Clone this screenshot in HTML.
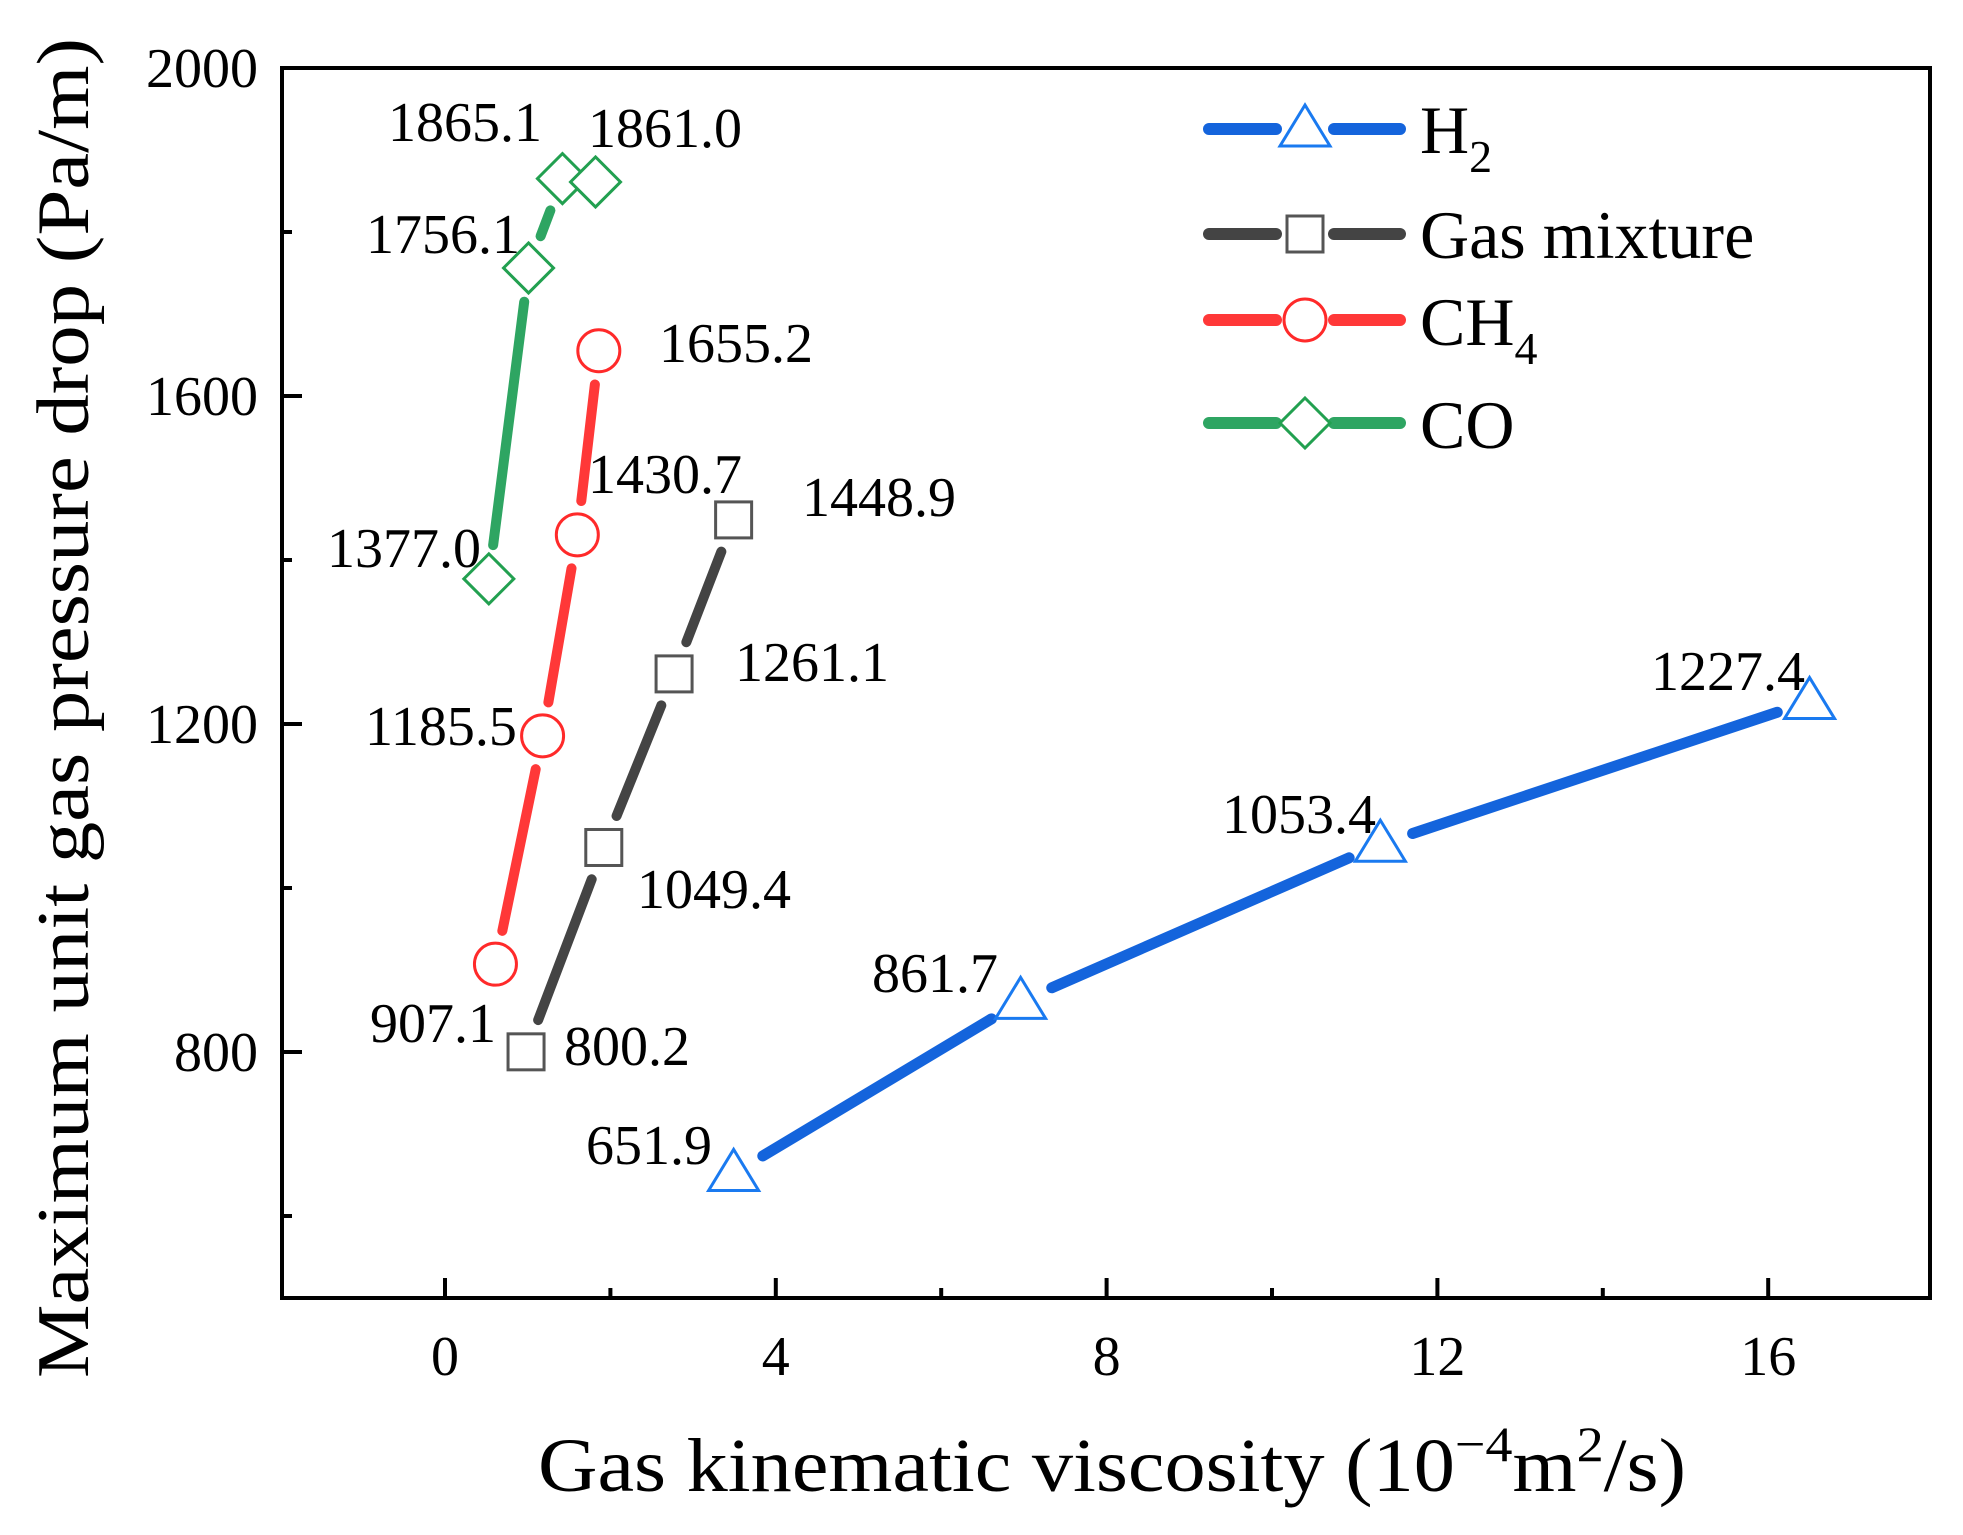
<!DOCTYPE html>
<html><head><meta charset="utf-8"><style>html,body{margin:0;padding:0;background:#fff}svg{display:block}</style></head>
<body>
<svg id="s" width="1963" height="1535" viewBox="0 0 1963 1535" xmlns="http://www.w3.org/2000/svg" font-family="Liberation Serif, serif">
<rect width="1963" height="1535" fill="#fff"/>
<g id="plot"></g>
<rect x="282" y="68" width="1648" height="1230" fill="none" stroke="#000" stroke-width="4"/>
<g stroke="#000" stroke-width="4" id="ticks"></g>
<g font-size="56" fill="#000" text-anchor="end">
<text x="258" y="87">2000</text>
<text x="258" y="415">1600</text>
<text x="258" y="743">1200</text>
<text x="258" y="1071">800</text>
</g>
<g font-size="56" fill="#000" text-anchor="middle" id="xl"></g>
<text x="538" y="1491" font-size="76" textLength="1148" lengthAdjust="spacingAndGlyphs">Gas kinematic viscosity (10<tspan dy="-30" font-size="50">−4</tspan><tspan dy="30">m</tspan><tspan dy="-30" font-size="50">2</tspan><tspan dy="30">/s)</tspan></text>
<text transform="translate(88,1378) rotate(-90)" font-size="74" textLength="1340" lengthAdjust="spacingAndGlyphs">Maximum unit gas pressure drop  (Pa/m)</text>
<g font-size="56" fill="#000">
<text x="388" y="141">1865.1</text>
<text x="588" y="147">1861.0</text>
<text x="366" y="253">1756.1</text>
<text x="659" y="362">1655.2</text>
<text x="588" y="493">1430.7</text>
<text x="802" y="516">1448.9</text>
<text x="327" y="567">1377.0</text>
<text x="735" y="681">1261.1</text>
<text x="365" y="745">1185.5</text>
<text x="637" y="908">1049.4</text>
<text x="370" y="1042">907.1</text>
<text x="564" y="1065">800.2</text>
<text x="586" y="1164">651.9</text>
<text x="872" y="992">861.7</text>
<text x="1222" y="833">1053.4</text>
<text x="1651" y="690">1227.4</text>
</g>
<g id="leg"></g>
<g font-size="68" fill="#000">
<text x="1420" y="153">H<tspan font-size="46" dy="19">2</tspan></text>
<text x="1420" y="258">Gas mixture</text>
<text x="1420" y="345">CH<tspan font-size="46" dy="19">4</tspan></text>
<text x="1420" y="448">CO</text>
</g>
</svg>
<script>
const NS="http://www.w3.org/2000/svg";
const X0=445,U=82.7;
function px(x){return X0+U*x} function py(v){return 68+(2000-v)*0.82}
function el(p,t,a){const e=document.createElementNS(NS,t);for(const k in a)e.setAttribute(k,a[k]);p.appendChild(e);return e}
const ticks=document.getElementById('ticks');
[2000,1800,1600,1400,1200,1000,800,600].forEach(v=>{const y=py(v);el(ticks,'line',{x1:282,x2:282+(v%400==0?20:10),y1:y,y2:y})});
for(let x=0;x<=16;x+=2){const X=px(x);el(ticks,'line',{x1:X,x2:X,y1:1298,y2:1298-(x%4==0?20:10)})}
const xl=document.getElementById('xl');
[0,4,8,12,16].forEach(x=>{const t=el(xl,'text',{x:px(x),y:1375});t.textContent=x});
const S=[
 {c:'#1464dc',m:'#1a7af0',k:'tri',w:11,d:[[3.49,651.9],[6.96,861.7],[11.31,1053.4],[16.5,1227.4]]},
 {c:'#444',m:'#555',k:'sq',w:10,d:[[0.98,800.2],[1.92,1049.4],[2.77,1261.1],[3.49,1448.9]]},
 {c:'#ff3838',m:'#ff2a2a',k:'ci',w:10,d:[[0.61,907.1],[1.18,1185.5],[1.60,1430.7],[1.86,1655.2]]},
 {c:'#2ea562',m:'#22a050',k:'di',w:10,d:[[0.53,1377.0],[1.01,1756.1],[1.42,1865.1],[1.82,1861.0]]}];
function marker(g,k,x,y,col){
 const a={fill:'#fff',stroke:col,'stroke-width':3};
 if(k=='tri')el(g,'polygon',Object.assign({points:`${x},${y-24} ${x-25},${y+17} ${x+25},${y+17}`},a));
 if(k=='sq')el(g,'rect',Object.assign({x:x-18,y:y-18,width:36,height:36},a));
 if(k=='ci')el(g,'circle',Object.assign({cx:x,cy:y,r:21},a));
 if(k=='di')el(g,'polygon',Object.assign({points:`${x},${y-25} ${x+25},${y} ${x},${y+25} ${x-25},${y}`},a));
}
const g=document.getElementById('plot');
S.forEach(s=>{const p=s.d.map(q=>[px(q[0]),py(q[1])]);
 for(let i=0;i<p.length-1;i++){const [x1,y1]=p[i],[x2,y2]=p[i+1];const L=Math.hypot(x2-x1,y2-y1);const gap=34;
  if(L>2*gap){const ux=(x2-x1)/L,uy=(y2-y1)/L;el(g,'line',{x1:x1+ux*gap,y1:y1+uy*gap,x2:x2-ux*gap,y2:y2-uy*gap,stroke:s.c,'stroke-width':s.w,'stroke-linecap':'round'})}}
 p.forEach(q=>marker(g,s.k,q[0],q[1],s.m));});
const lg=document.getElementById('leg');
[129,234,320,423].forEach((y,i)=>{const s=S[i];
 el(lg,'line',{x1:1209,x2:1276,y1:y,y2:y,stroke:s.c,'stroke-width':12,'stroke-linecap':'round'});
 el(lg,'line',{x1:1334,x2:1400,y1:y,y2:y,stroke:s.c,'stroke-width':12,'stroke-linecap':'round'});
 marker(lg,s.k,1305,y,s.m);});
</script>
</body></html>
